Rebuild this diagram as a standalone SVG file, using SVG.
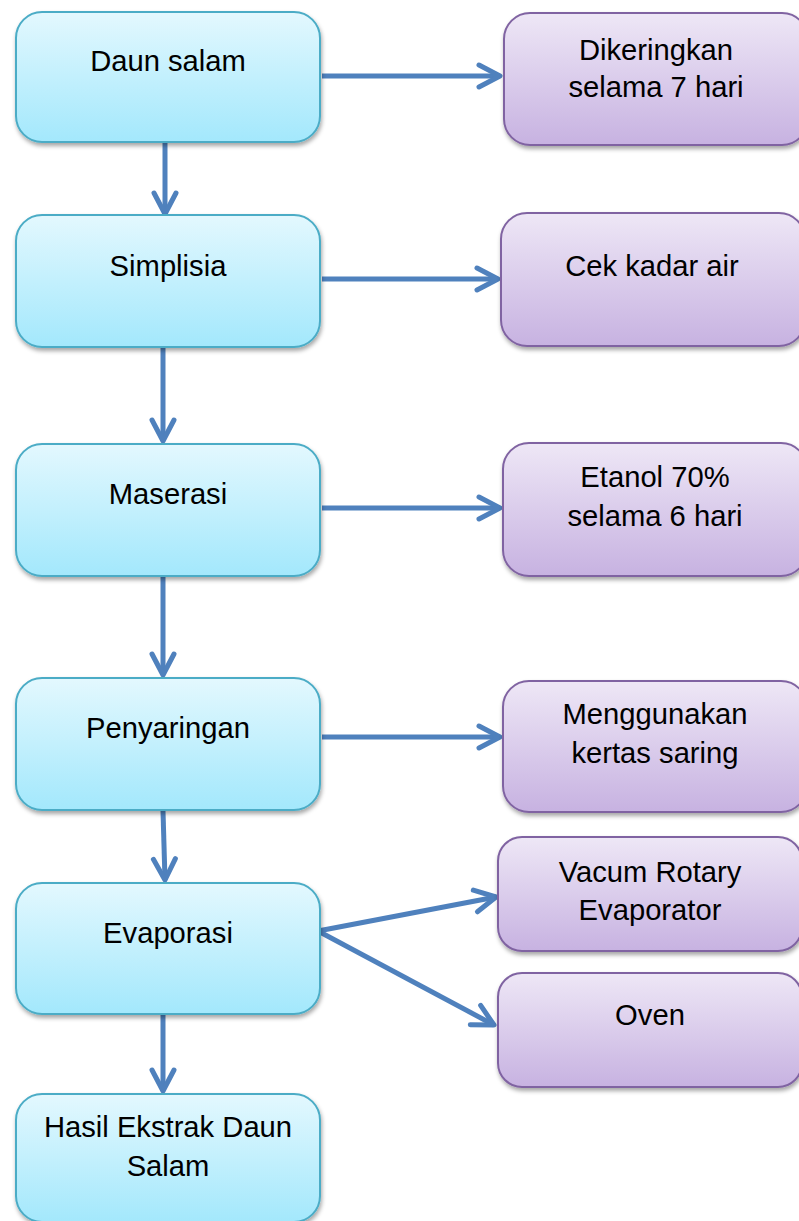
<svg xmlns="http://www.w3.org/2000/svg" width="799" height="1221" viewBox="0 0 799 1221">
<style>
.lnode{fill:url(#gBlue);stroke:#4bacc6;stroke-width:2;filter:url(#sh)}
.rnode{fill:url(#gPurple);stroke:#8064a2;stroke-width:2;filter:url(#sh)}
text{font-family:"Liberation Sans",Arial,sans-serif;font-size:29.2px;fill:#000;text-anchor:middle}
.conn{stroke:#4f81bd;stroke-width:5;fill:none;marker-end:url(#arr)}
</style>
<defs>
<linearGradient id="gBlue" x1="0" y1="0" x2="0" y2="1">
<stop offset="0" stop-color="#e3f8fe"/>
<stop offset="1" stop-color="#a3e8fc"/>
</linearGradient>
<linearGradient id="gPurple" x1="0" y1="0" x2="0" y2="1">
<stop offset="0" stop-color="#eee7f6"/>
<stop offset="1" stop-color="#c7b2e1"/>
</linearGradient>
<filter id="sh" x="-10%" y="-10%" width="120%" height="130%">
<feDropShadow dx="1" dy="3" stdDeviation="2" flood-color="#000" flood-opacity="0.35"/>
</filter>
<marker id="arr" markerUnits="userSpaceOnUse" markerWidth="30" markerHeight="30" viewBox="-26 -15 30 30" refX="0" refY="0" orient="auto">
<path d="M-21 -11 L0 0 L-21 11" fill="none" stroke="#4f81bd" stroke-width="5" stroke-linecap="round" stroke-linejoin="round"/>
</marker>
</defs>

<g id="connectors">
<line class="conn" x1="322" y1="76" x2="500" y2="76"/>
<line class="conn" x1="165" y1="143" x2="165" y2="214"/>
<line class="conn" x1="322" y1="279" x2="498" y2="279"/>
<line class="conn" x1="163" y1="348" x2="163" y2="441"/>
<line class="conn" x1="322" y1="508" x2="500" y2="508"/>
<line class="conn" x1="163" y1="577" x2="163" y2="675"/>
<line class="conn" x1="322" y1="737" x2="500" y2="737"/>
<line class="conn" x1="163" y1="811" x2="165" y2="880"/>
<line class="conn" x1="318" y1="931" x2="496" y2="897"/>
<line class="conn" x1="318" y1="931" x2="494" y2="1025"/>
<line class="conn" x1="163" y1="1015" x2="163" y2="1091"/>
</g>

<g id="n-daun-salam">
<rect class="lnode" x="16" y="12" width="304" height="130" rx="26"/>
<text x="168" y="71">Daun salam</text>
</g>
<g id="n-simplisia">
<rect class="lnode" x="16" y="215" width="304" height="132" rx="26"/>
<text x="168" y="276">Simplisia</text>
</g>
<g id="n-maserasi">
<rect class="lnode" x="16" y="444" width="304" height="132" rx="26"/>
<text x="168" y="504">Maserasi</text>
</g>
<g id="n-penyaringan">
<rect class="lnode" x="16" y="678" width="304" height="132" rx="26"/>
<text x="168" y="738">Penyaringan</text>
</g>
<g id="n-evaporasi">
<rect class="lnode" x="16" y="883" width="304" height="131" rx="26"/>
<text x="168" y="943">Evaporasi</text>
</g>
<g id="n-hasil">
<rect class="lnode" x="16" y="1094" width="304" height="128" rx="26"/>
<text x="168" y="1137">Hasil Ekstrak Daun</text>
<text x="168" y="1176">Salam</text>
</g>

<g id="n-dikeringkan">
<rect class="rnode" x="504" y="13" width="304" height="132" rx="26"/>
<text x="656" y="60">Dikeringkan</text>
<text x="656" y="97">selama 7 hari</text>
</g>
<g id="n-cek-kadar-air">
<rect class="rnode" x="501" y="213" width="304" height="133" rx="26"/>
<text x="652" y="276">Cek kadar air</text>
</g>
<g id="n-etanol">
<rect class="rnode" x="503" y="443" width="304" height="133" rx="26"/>
<text x="655" y="487">Etanol 70%</text>
<text x="655" y="526">selama 6 hari</text>
</g>
<g id="n-kertas-saring">
<rect class="rnode" x="503" y="681" width="304" height="131" rx="26"/>
<text x="655" y="724">Menggunakan</text>
<text x="655" y="763">kertas saring</text>
</g>
<g id="n-vacum">
<rect class="rnode" x="498" y="837" width="304" height="114" rx="24"/>
<text x="650" y="882">Vacum Rotary</text>
<text x="650" y="920">Evaporator</text>
</g>
<g id="n-oven">
<rect class="rnode" x="498" y="973" width="304" height="114" rx="24"/>
<text x="650" y="1025">Oven</text>
</g>
</svg>
